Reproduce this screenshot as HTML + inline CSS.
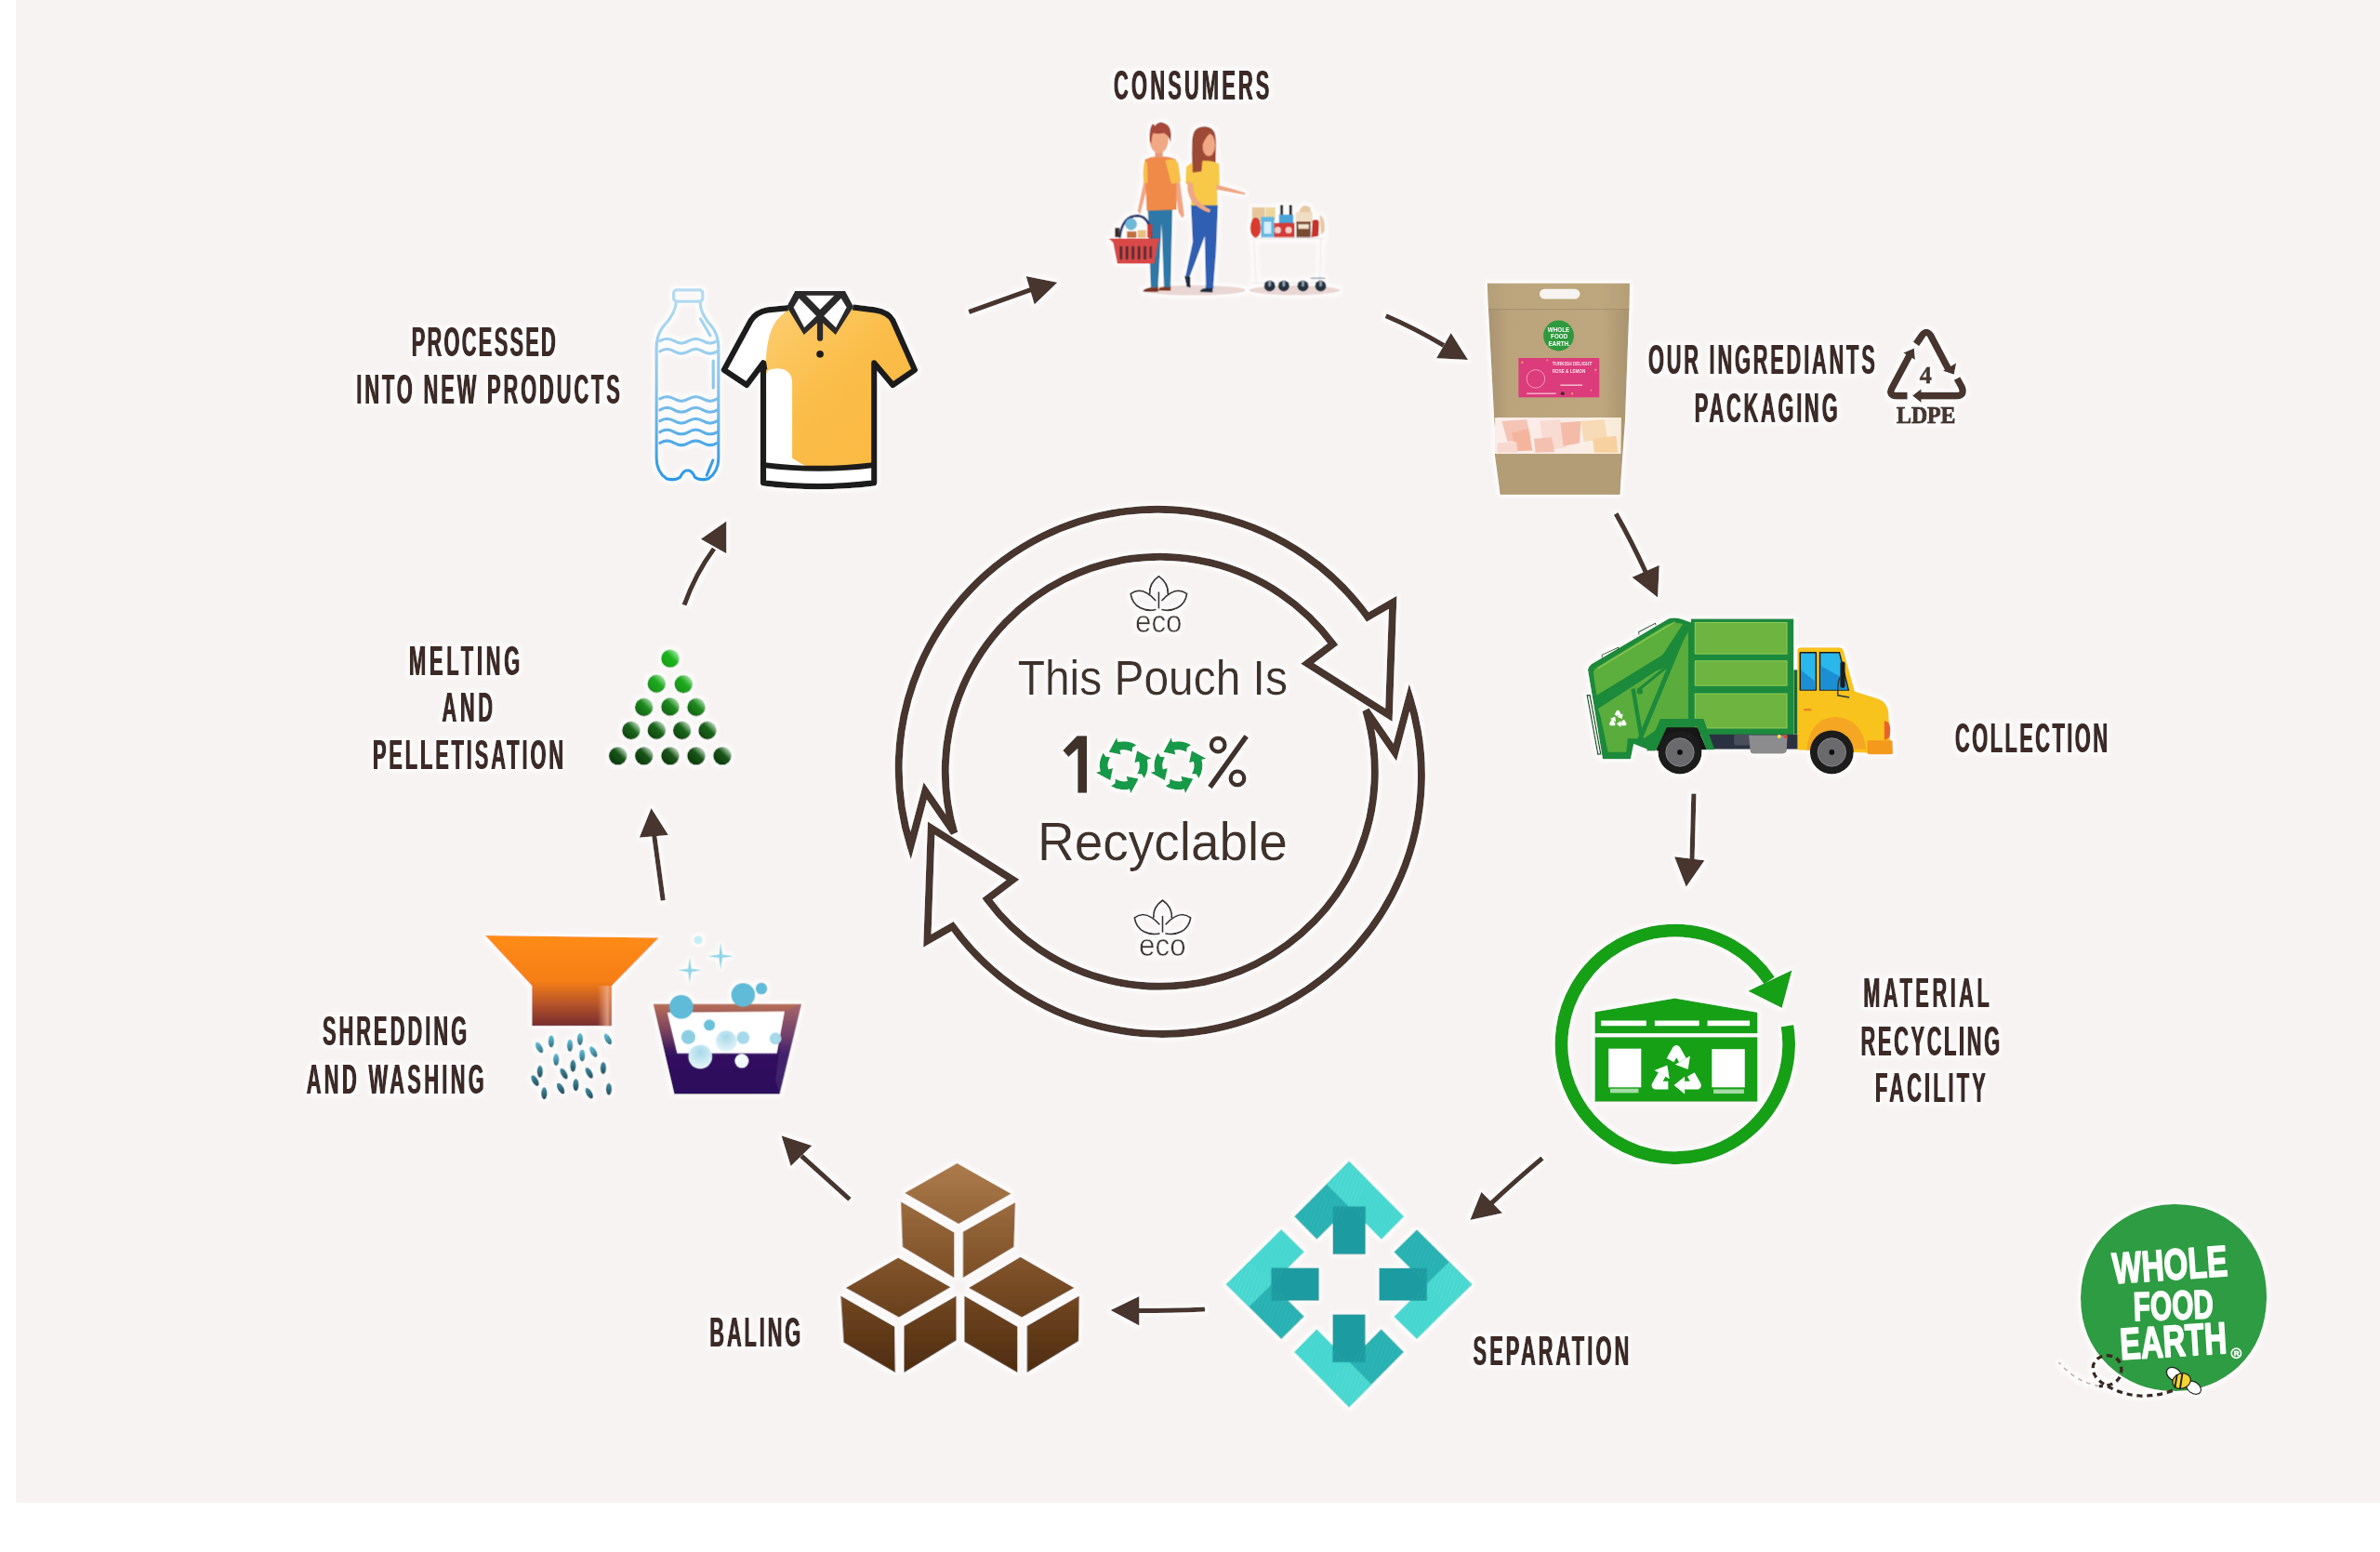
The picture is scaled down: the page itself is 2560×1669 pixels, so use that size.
<!DOCTYPE html>
<html><head><meta charset="utf-8"><title>Recycling Process</title>
<style>
html,body{margin:0;padding:0;background:#fff;}
body{width:2560px;height:1669px;overflow:hidden;position:relative;font-family:"Liberation Sans",sans-serif;}
svg{position:absolute;left:0;top:0;}
.lb{font-family:"Liberation Sans",sans-serif;font-weight:bold;font-size:43.6px;fill:#3c2b26;}
</style></head>
<body>
<svg width="2560" height="1669" viewBox="0 0 2560 1669">
<rect x="0" y="0" width="2560" height="1669" fill="#ffffff"/>
<rect x="17" y="0" width="2543" height="1616" fill="#f7f3f2"/>
<defs><filter id="halo" x="0" y="0" width="2560" height="1669" filterUnits="userSpaceOnUse">
<feMorphology in="SourceAlpha" operator="dilate" radius="2.5" result="d"/>
<feGaussianBlur in="d" stdDeviation="2" result="b"/>
<feFlood flood-color="#ffffff" flood-opacity="0.75"/>
<feComposite in2="b" operator="in" result="h"/>
<feMerge><feMergeNode in="h"/><feMergeNode in="SourceGraphic"/></feMerge>
</filter></defs>
<g filter="url(#halo)">
<!-- ===== CENTRAL RING ===== -->
<g id="ring" fill="none" stroke="#46352f" stroke-width="8" stroke-linejoin="miter">
<path id="ringarrow" d="M979.5 909.8 A278.5 278.5 0 0 1 1471.1 663.4 L1498.2 647.9 L1493.9 768.9 L1406.2 713.5 L1433.7 692.7 A231.0 231.0 0 0 0 1026.4 895.8 L995.2 850.6 Z"/>
<use href="#ringarrow" transform="rotate(180 1247.8 829.8)"/>
</g>
<g fill="#3f302b" font-family="Liberation Sans, sans-serif">
<text x="1094.7" y="747" font-size="51" textLength="290.2" lengthAdjust="spacingAndGlyphs">This Pouch Is</text>
<text x="1116" y="925.4" font-size="57" textLength="268.9" lengthAdjust="spacingAndGlyphs">Recyclable</text>
</g>
<!-- ===== 100% ===== -->
<g fill="#3f302b">
<polygon points="1169,791.3 1169,852.8 1159.2,852.8 1159.2,805 1149.3,814 1143.3,807 1158.5,791.3"/>
<line x1="1340.7" y1="791.6" x2="1301.4" y2="846.6" stroke="#3f302b" stroke-width="5.8"/>
<circle cx="1310.2" cy="801.1" r="7.3" fill="none" stroke="#3f302b" stroke-width="4.5"/>
<circle cx="1331" cy="836.9" r="7.3" fill="none" stroke="#3f302b" stroke-width="4.5"/>
</g>
<g fill="#179a48">
<path d="M1222.5 801.2 A26.0 26.0 0 0 0 1202.4 798.0 L1201.2 793.1 L1192.7 808.8 L1205.8 811.6 L1204.6 806.7 A17.0 17.0 0 0 1 1217.7 808.8 L1218.1 803.9 Z"/>
<path d="M1186.7 809.4 A26.0 26.0 0 0 0 1183.5 829.5 L1178.6 830.7 L1194.3 839.2 L1197.1 826.1 L1192.2 827.3 A17.0 17.0 0 0 1 1194.3 814.2 L1189.4 813.8 Z"/>
<path d="M1194.9 845.2 A26.0 26.0 0 0 0 1215.0 848.4 L1216.2 853.3 L1224.7 837.6 L1211.6 834.8 L1212.8 839.7 A17.0 17.0 0 0 1 1199.7 837.6 L1199.3 842.5 Z"/>
<path d="M1230.7 837.0 A26.0 26.0 0 0 0 1233.9 816.9 L1238.8 815.7 L1223.1 807.2 L1220.3 820.3 L1225.2 819.1 A17.0 17.0 0 0 1 1223.1 832.2 L1228.0 832.6 Z"/>
<path d="M1281.2 801.2 A26.0 26.0 0 0 0 1261.1 798.0 L1259.9 793.1 L1251.4 808.8 L1264.5 811.6 L1263.3 806.7 A17.0 17.0 0 0 1 1276.4 808.8 L1276.8 803.9 Z"/>
<path d="M1245.4 809.4 A26.0 26.0 0 0 0 1242.2 829.5 L1237.3 830.7 L1253.0 839.2 L1255.8 826.1 L1250.9 827.3 A17.0 17.0 0 0 1 1253.0 814.2 L1248.1 813.8 Z"/>
<path d="M1253.6 845.2 A26.0 26.0 0 0 0 1273.7 848.4 L1274.9 853.3 L1283.4 837.6 L1270.3 834.8 L1271.5 839.7 A17.0 17.0 0 0 1 1258.4 837.6 L1258.0 842.5 Z"/>
<path d="M1289.4 837.0 A26.0 26.0 0 0 0 1292.6 816.9 L1297.5 815.7 L1281.8 807.2 L1279.0 820.3 L1283.9 819.1 A17.0 17.0 0 0 1 1281.8 832.2 L1286.7 832.6 Z"/>
</g>
<g transform="translate(1246.4 619.8)"><g id="eco" fill="none" stroke="#3a3432" stroke-width="1.9" stroke-linecap="round">
<path d="M-9.6 18.6 C-10.5 9 -5 3.5 0 0 C5 3.5 10.5 9 9.8 18.6"/>
<path d="M0 17.5 L0 34"/>
<path d="M-3.6 25.8 Q-18.1 9.7 -30.2 18.8 C-28 34 -14 38 -3.6 35.8"/>
<path d="M3.6 25.8 Q18.1 9.7 30.2 18.8 C28 34 14 38 3.6 35.8"/>
<text x="-25.4" y="59.8" font-family="Liberation Sans, sans-serif" font-size="32.5" fill="#3a3432" stroke="#f7f3f2" stroke-width="0.6" textLength="50.5" lengthAdjust="spacingAndGlyphs">eco</text>
</g></g>
<use href="#eco" transform="translate(1250.5 968.1)"/>
<g id="labels">
<text class="lb" transform="matrix(0.500 0 0 1 1197.6 0)" x="0" y="107.0" textLength="334.6" lengthAdjust="spacing">CONSUMERS</text>
<text class="lb" transform="matrix(0.500 0 0 1 442.3 0)" x="0" y="383.0" textLength="310.0" lengthAdjust="spacing">PROCESSED</text>
<text class="lb" transform="matrix(0.500 0 0 1 382.8 0)" x="0" y="433.8" textLength="567.0" lengthAdjust="spacing">INTO NEW PRODUCTS</text>
<text class="lb" transform="matrix(0.500 0 0 1 1772.4 0)" x="0" y="402.5" textLength="487.6" lengthAdjust="spacing">OUR INGREDIANTS</text>
<text class="lb" transform="matrix(0.500 0 0 1 1822.2 0)" x="0" y="454.3" textLength="307.8" lengthAdjust="spacing">PACKAGING</text>
<text class="lb" transform="matrix(0.500 0 0 1 2102.6 0)" x="0" y="808.6" textLength="327.8" lengthAdjust="spacing">COLLECTION</text>
<text class="lb" transform="matrix(0.500 0 0 1 2003.7 0)" x="0" y="1083.3" textLength="271.2" lengthAdjust="spacing">MATERIAL</text>
<text class="lb" transform="matrix(0.500 0 0 1 2001.1 0)" x="0" y="1134.8" textLength="299.0" lengthAdjust="spacing">RECYCLING</text>
<text class="lb" transform="matrix(0.500 0 0 1 2016.6 0)" x="0" y="1185.4" textLength="237.2" lengthAdjust="spacing">FACILITY</text>
<text class="lb" transform="matrix(0.500 0 0 1 1584.1 0)" x="0" y="1468.2" textLength="335.2" lengthAdjust="spacing">SEPARATION</text>
<text class="lb" transform="matrix(0.500 0 0 1 762.8 0)" x="0" y="1447.8" textLength="196.0" lengthAdjust="spacing">BALING</text>
<text class="lb" transform="matrix(0.500 0 0 1 346.4 0)" x="0" y="1124.1" textLength="310.4" lengthAdjust="spacing">SHREDDING</text>
<text class="lb" transform="matrix(0.500 0 0 1 329.2 0)" x="0" y="1175.6" textLength="382.2" lengthAdjust="spacing">AND WASHING</text>
<text class="lb" transform="matrix(0.500 0 0 1 439.6 0)" x="0" y="725.8" textLength="238.2" lengthAdjust="spacing">MELTING</text>
<text class="lb" transform="matrix(0.500 0 0 1 475.0 0)" x="0" y="776.2" textLength="109.0" lengthAdjust="spacing">AND</text>
<text class="lb" transform="matrix(0.500 0 0 1 400.4 0)" x="0" y="827.3" textLength="410.2" lengthAdjust="spacing">PELLETISATION</text>
</g>
<use href="#labels" x="1.0"/>
<!-- ===== CONNECTOR ARROWS ===== -->
<g id="arrows">
<g fill="none" stroke="#46362f" stroke-width="5.2" stroke-linecap="butt">
<path d="M1042.1 335.5 L1109 311.5"/>
<path d="M1490.6 339.6 Q1522 353 1553 371.5"/>
<path d="M1738.1 552.4 Q1755 582 1771 617"/>
<path d="M1821.9 853.5 L1820 925"/>
<path d="M1659 1245.6 Q1632 1268 1603 1295"/>
<path d="M1296 1408 Q1262 1409.5 1224 1409.5"/>
<path d="M914 1289.9 L862 1243"/>
<path d="M713.2 968.3 L703.5 897"/>
<path d="M736 650.6 Q748 617 768 590"/>
</g>
<g fill="#46362f">
<polygon points="1103.6,297.1 1137.4,303.7 1112.7,327.4"/>
<polygon points="1560.7,358 1579.1,387 1545,385.3"/>
<polygon points="1755.4,620.8 1784.8,607.7 1783.1,642.4"/>
<polygon points="1801,921.2 1833.5,925.3 1813.7,953.7"/>
<polygon points="1593.4,1281.7 1616.1,1304.4 1581.3,1311.9"/>
<polygon points="1225.4,1393.9 1225.4,1425.4 1194.6,1409"/>
<polygon points="840.5,1221.3 873.4,1231.9 850.6,1254.1"/>
<polygon points="700.5,869 687.7,900.7 718.9,897.9"/>
<polygon points="781.3,560.4 753.8,579.7 781.3,595.3"/>
</g>
</g>
<!-- ===== LDPE symbol ===== -->
<g id="ldpe">
<g fill="none" stroke="#46352f" stroke-width="7.6" stroke-linejoin="round">
<path d="M2061 370 L2067.5 360.5 Q2072 354.5 2076.5 360.5 L2095.5 396.5"/>
<path d="M2105 407 L2110 416 Q2114 425.6 2104 425.6 L2066 425.6"/>
<path d="M2051.7 425.6 L2040.5 425.6 Q2030.5 425.6 2035.5 416.5 L2054 382"/>
</g>
<g fill="#46352f">
<polygon points="2101.8,402.8 2089.8,398.8 2104.2,390.2"/>
<polygon points="2057,425.6 2066.6,418.2 2066.6,433"/>
<polygon points="2058.8,374.6 2047.2,379.4 2060,387"/>
<text x="2071.2" y="411.5" font-family="Liberation Serif, serif" font-weight="bold" font-size="26" text-anchor="middle" stroke="#46352f" stroke-width="0.8">4</text>
<text x="2040" y="454.8" font-family="Liberation Serif, serif" font-weight="bold" font-size="24.2" textLength="63.5" lengthAdjust="spacingAndGlyphs" stroke="#46352f" stroke-width="1.1">LDPE</text>
</g>
</g>
<!-- ===== POUCH ===== -->
<g id="pouch" transform="translate(1590 295) scale(0.15789)">
<defs>
<linearGradient id="kraft" x1="0" y1="0" x2="1" y2="0">
<stop offset="0" stop-color="#a89270"/><stop offset="0.15" stop-color="#bba47c"/><stop offset="0.8" stop-color="#bea77e"/><stop offset="1" stop-color="#a9936f"/>
</linearGradient>
<linearGradient id="win" x1="0" y1="0" x2="1" y2="0">
<stop offset="0" stop-color="#fbeeea"/><stop offset="0.5" stop-color="#faebe6"/><stop offset="0.8" stop-color="#fbf0e4"/><stop offset="1" stop-color="#f9ead6"/>
</linearGradient>
</defs>
<path d="M62 62 L1032 62 L1028 250 L1000 1000 L965 1500 L150 1500 L110 1000 L70 250 Z" fill="url(#kraft)"/>
<path d="M62 62 L1032 62 L1028 240 L70 240 Z" fill="#bda67d" opacity="0.6"/>
<rect x="418" y="100" width="275" height="68" rx="34" fill="#f7f3f0"/>
<line x1="70" y1="238" x2="1030" y2="238" stroke="#9d8c68" stroke-width="5"/>
<circle cx="548" cy="418" r="104" fill="#2f9a3e"/>
<g fill="#ffffff" font-family="Liberation Sans, sans-serif" font-weight="bold" font-size="40" text-anchor="middle">
<text x="548" y="395">WHOLE</text><text x="552" y="440">FOOD</text><text x="552" y="485">EARTH.</text>
</g>
<rect x="275" y="570" width="550" height="268" fill="#dc3a7c"/>
<g fill="#fbe3ec" font-family="Liberation Sans, sans-serif" font-weight="bold" font-size="30">
<text x="505" y="620" textLength="270" lengthAdjust="spacingAndGlyphs">TURKISH DELIGHT</text>
<text x="505" y="672" textLength="225" lengthAdjust="spacingAndGlyphs">ROSE &amp; LEMON</text>
</g>
<circle cx="392" cy="712" r="62" fill="none" stroke="#f3b6cc" stroke-width="5"/>
<rect x="560" y="750" width="150" height="10" fill="#f3b6cc"/>
<rect x="330" y="808" width="200" height="8" fill="#f7c9d8"/>
<circle cx="575" cy="812" r="12" fill="#3b2a20"/>
<g fill="#f7d35a"><circle cx="300" cy="600" r="6"/><circle cx="800" cy="650" r="6"/><circle cx="770" cy="790" r="5"/><circle cx="470" cy="585" r="5"/><circle cx="640" cy="812" r="6"/></g>
<path d="M115 975 L975 975 L972 1222 L112 1222 Z" fill="url(#win)"/>
<g opacity="0.75">
<path d="M160 1000 L330 990 L360 1120 L200 1140 Z" fill="#f3b7a4"/>
<path d="M230 1080 L340 1050 L370 1200 L250 1205 Z" fill="#f4a384"/>
<path d="M420 1000 L560 990 L600 1180 L450 1200 Z" fill="#f8d6cb"/>
<path d="M560 1010 L700 1000 L690 1150 L580 1170 Z" fill="#f2ab95"/>
<path d="M700 1000 L860 990 L880 1120 L720 1140 Z" fill="#f6d4a8"/>
<path d="M780 1120 L940 1100 L950 1215 L790 1215 Z" fill="#f6c98a"/>
<path d="M130 1150 L260 1140 L270 1215 L130 1215 Z" fill="#f8d2c6"/>
<path d="M380 1120 L500 1110 L520 1210 L390 1215 Z" fill="#f2b39d"/>
</g>
<path d="M112 1222 L972 1222 L965 1500 L150 1500 Z" fill="#b39d76"/>
</g>
<!-- ===== TRUCK ===== -->
<g id="truck" transform="translate(1700 655) scale(0.14495)">
<!-- rear bar -->
<path d="M50 640 L70 640 L150 1075 L130 1078 Z" fill="none" stroke="#1d5e2c" stroke-width="10"/>
<!-- compactor -->
<path d="M55 450 Q60 420 95 400 L655 70 Q700 60 745 72 L840 105 L840 1000 L520 1050 L395 1000 L372 1112 L165 1112 Z" fill="#1e8a3a"/>
<path d="M95 470 Q100 445 125 430 L640 115 L700 100 L760 110 L610 340 L120 640 Z" fill="#5cae3d"/>
<path d="M130 740 L560 460 L650 420 L720 300 L800 170 L800 870 L600 870 L470 960 L350 960 L340 1060 L205 1060 L150 800 Z" fill="#5aad3c"/>
<path d="M100 660 L640 330 L700 360 L110 740 Z" fill="#1e8a3a"/>
<path d="M430 600 L650 420" stroke="#1e8a3a" stroke-width="22"/>
<circle cx="440" cy="610" r="22" fill="#1e8a3a"/>
<path d="M390 590 L460 1000" stroke="#1e8a3a" stroke-width="30"/>
<path d="M780 150 L430 990" stroke="#1e8a3a" stroke-width="34"/>
<path d="M700 95 L130 440" stroke="#9ad15a" stroke-width="8" opacity="0.8"/>
<!-- handles -->
<path d="M160 360 L160 340 L280 285 L285 300" fill="none" stroke="#1d5e2c" stroke-width="8"/>
<path d="M435 190 L432 170 L555 105 L560 120" fill="none" stroke="#1d5e2c" stroke-width="8"/>
<!-- recycle symbol -->
<path d="M262.4 789.0 L278.0 762.0 L293.6 789.0" fill="none" stroke="#ffffff" stroke-width="23.0" stroke-linejoin="round"/>
<polygon points="308.5,814.9 272.7,801.1 314.5,776.9" fill="#ffffff"/>
<path d="M314.4 825.0 L330.0 852.0 L298.8 852.0" fill="none" stroke="#ffffff" stroke-width="23.0" stroke-linejoin="round"/>
<polygon points="268.9,852.0 298.8,827.9 298.8,876.1" fill="#ffffff"/>
<path d="M257.2 852.0 L226.0 852.0 L241.6 825.0" fill="none" stroke="#ffffff" stroke-width="23.0" stroke-linejoin="round"/>
<polygon points="256.6,799.1 262.5,837.1 220.7,812.9" fill="#ffffff"/>
<!-- body box -->
<rect x="820" y="72" width="762" height="860" fill="#1f8a3c"/>
<rect x="850" y="100" width="682" height="232" fill="#6db43f" stroke="#9bd25b" stroke-width="6"/>
<rect x="850" y="385" width="682" height="182" fill="#6db43f" stroke="#9bd25b" stroke-width="6"/>
<rect x="850" y="628" width="682" height="255" fill="#6db43f" stroke="#9bd25b" stroke-width="6"/>
<rect x="1582" y="450" width="30" height="480" fill="#166c2e"/>
<!-- chassis -->
<rect x="930" y="930" width="690" height="110" fill="#2c3342"/>
<rect x="1140" y="930" width="120" height="80" rx="12" fill="#4a4f5a"/>
<path d="M1250 935 L1535 935 L1530 1055 Q1520 1072 1500 1072 L1280 1072 Q1262 1072 1260 1055 Z" fill="#8c8c8e"/>
<circle cx="1475" cy="945" r="14" fill="#f0e04a"/>
<circle cx="1520" cy="945" r="14" fill="#e0453f"/>
<!-- lower body edge over rear wheel -->
<path d="M560 1052 L640 878 L868 878 L940 1044 Z" fill="#141414"/>
<path d="M490 1052 L592 814 L913 814 L995 1044 L935 1044 L868 872 L636 872 L556 1052 Z" fill="#1e8a3a"/>
<!-- cab -->
<path d="M1610 300 Q1615 285 1640 285 L1925 285 Q1945 288 1952 310 L2035 610 L2210 665 Q2275 690 2285 760 L2300 1000 L2300 1075 L1610 1045 Z" fill="#f8c31d"/>
<path d="M1680 1045 Q1700 810 1890 800 Q2090 810 2120 1040 Z" fill="#f5a623"/>
<path d="M2130 975 L2315 975 L2318 1070 Q2318 1078 2305 1078 L2140 1078 Q2128 1078 2128 1065 Z" fill="#f39a1f"/>
<path d="M2255 830 Q2300 830 2300 900 Q2300 970 2255 970 Z" fill="#e8622b"/>
<!-- windows -->
<rect x="1625" y="318" width="128" height="288" rx="6" fill="#1d1d1d"/>
<rect x="1635" y="328" width="108" height="268" fill="#2ab7ec"/>
<path d="M1635 450 L1743 540 L1743 596 L1635 596 Z" fill="#1b8fd4"/>
<path d="M1772 318 L1925 318 L1995 606 L1772 606 Z" fill="#1d1d1d"/>
<path d="M1782 328 L1918 328 L1983 596 L1782 596 Z" fill="#2ab7ec"/>
<path d="M1782 420 L1960 520 L1983 596 L1782 596 Z" fill="#1b8fd4"/>
<!-- mirror -->
<rect x="1928" y="390" width="35" height="195" rx="14" fill="#1d1d1d"/>
<path d="M1935 500 Q1905 520 1910 640 L1995 655" fill="none" stroke="#2d3a3a" stroke-width="10"/>
<rect x="1655" y="740" width="60" height="14" rx="7" fill="#e8762b"/>
<!-- wheels -->
<g>
<circle cx="738" cy="1062" r="162" fill="#1b1b1b"/>
<circle cx="738" cy="1062" r="105" fill="#6b6b6d" stroke="#8a8a8c" stroke-width="6"/>
<circle cx="738" cy="1062" r="20" fill="#111"/>
<circle cx="1865" cy="1062" r="162" fill="#1b1b1b"/>
<circle cx="1865" cy="1062" r="105" fill="#6b6b6d" stroke="#8a8a8c" stroke-width="6"/>
<circle cx="1865" cy="1062" r="20" fill="#111"/>
</g>
</g>
<!-- ===== MRF ===== -->
<g id="mrf" transform="translate(1665 985) scale(0.17722)">
<path d="M1452.9 666.5 A690 690 0 1 1 1344.0 392.2" fill="none" stroke="#12a014" stroke-width="78"/>
<polygon points="1215,455 1482,328 1420,558" fill="#12a014"/>
<polygon points="285,582 770,500 1272,585 1272,712 285,712" fill="#12a014"/>
<g fill="#ffffff"><rect x="322" y="635" width="275" height="32"/><rect x="648" y="635" width="270" height="32"/><rect x="968" y="635" width="257" height="32"/></g>
<rect x="285" y="735" width="987" height="392" fill="#12a014"/>
<g fill="#ffffff"><rect x="368" y="805" width="198" height="235"/><rect x="995" y="808" width="200" height="232"/></g>
<g fill="#a6dba6"><rect x="378" y="1048" width="172" height="26"/><rect x="1005" y="1052" width="185" height="26"/></g>
<path d="M742.3 875.2 L780.0 810.0 L817.7 875.2" fill="none" stroke="#ffffff" stroke-width="50.0" stroke-linejoin="round"/>
<polygon points="850.2,931.5 772.2,901.5 863.1,849.0" fill="#ffffff"/>
<path d="M867.9 962.2 L905.6 1027.5 L830.2 1027.5" fill="none" stroke="#ffffff" stroke-width="50.0" stroke-linejoin="round"/>
<polygon points="765.2,1027.5 830.2,975.0 830.2,1080.0" fill="#ffffff"/>
<path d="M729.8 1027.5 L654.4 1027.5 L692.1 962.2" fill="none" stroke="#ffffff" stroke-width="50.0" stroke-linejoin="round"/>
<polygon points="724.6,906.0 737.6,988.5 646.6,936.0" fill="#ffffff"/>
</g>
<!-- ===== SEPARATION ===== -->
<g id="sep" transform="translate(1310 1240) scale(0.18041)">
<defs><pattern id="stripes" patternUnits="userSpaceOnUse" width="22" height="22" patternTransform="rotate(20)"><rect width="22" height="22" fill="none"/><rect width="5" height="22" fill="#ffffff" opacity="0.07"/></pattern></defs>
<polygon points="455.0,378.0 590.0,515.0 917.0,186.0 782.0,48.0" fill="#27b1b2"/>
<polygon points="782.0,48.0 1110.0,378.0 975.0,515.0 647.0,185.0" fill="#45d7d0"/>
<polygon points="685.0,318.0 880.0,318.0 880.0,603.0 685.0,603.0" fill="#1c9ca0"/>
<polygon points="1186.0,455.0 1049.0,590.0 1378.0,917.0 1516.0,782.0" fill="#27b1b2"/>
<polygon points="1516.0,782.0 1186.0,1110.0 1049.0,975.0 1379.0,647.0" fill="#45d7d0"/>
<polygon points="1246.0,685.0 1246.0,880.0 961.0,880.0 961.0,685.0" fill="#1c9ca0"/>
<polygon points="1109.0,1186.0 974.0,1049.0 647.0,1378.0 782.0,1516.0" fill="#27b1b2"/>
<polygon points="782.0,1516.0 454.0,1186.0 589.0,1049.0 917.0,1379.0" fill="#45d7d0"/>
<polygon points="879.0,1246.0 684.0,1246.0 684.0,961.0 879.0,961.0" fill="#1c9ca0"/>
<polygon points="378.0,1109.0 515.0,974.0 186.0,647.0 48.0,782.0" fill="#27b1b2"/>
<polygon points="48.0,782.0 378.0,454.0 515.0,589.0 185.0,917.0" fill="#45d7d0"/>
<polygon points="318.0,879.0 318.0,684.0 603.0,684.0 603.0,879.0" fill="#1c9ca0"/>
<polygon points="455.0,378.0 590.0,515.0 917.0,186.0 782.0,48.0" fill="url(#stripes)"/>
<polygon points="782.0,48.0 1110.0,378.0 975.0,515.0 647.0,185.0" fill="url(#stripes)"/>
<polygon points="1186.0,455.0 1049.0,590.0 1378.0,917.0 1516.0,782.0" fill="url(#stripes)"/>
<polygon points="1516.0,782.0 1186.0,1110.0 1049.0,975.0 1379.0,647.0" fill="url(#stripes)"/>
<polygon points="1109.0,1186.0 974.0,1049.0 647.0,1378.0 782.0,1516.0" fill="url(#stripes)"/>
<polygon points="782.0,1516.0 454.0,1186.0 589.0,1049.0 917.0,1379.0" fill="url(#stripes)"/>
<polygon points="378.0,1109.0 515.0,974.0 186.0,647.0 48.0,782.0" fill="url(#stripes)"/>
<polygon points="48.0,782.0 378.0,454.0 515.0,589.0 185.0,917.0" fill="url(#stripes)"/>
</g>
<!-- ===== CUBES ===== -->
<g id="cubes" transform="translate(895 1245) scale(0.15461)">
<defs><linearGradient id="cubeg" gradientUnits="userSpaceOnUse" x1="0" y1="38" x2="0" y2="1495"><stop offset="0" stop-color="#ad7c4c"/><stop offset="0.45" stop-color="#84562c"/><stop offset="1" stop-color="#4f2c0f"/></linearGradient></defs>
<g fill="url(#cubeg)">
<polygon points="505,245 870,38 1245,250 880,460"/>
<polygon points="478,305 850,520 850,835 490,620"/>
<polygon points="910,515 1275,310 1265,620 910,835"/>
<polygon points="95,905 460,695 825,900 465,1110"/>
<polygon points="60,960 435,1175 440,1495 80,1285"/>
<polygon points="500,1170 865,960 865,1270 500,1495"/>
<polygon points="950,905 1310,690 1685,905 1320,1110"/>
<polygon points="920,960 1290,1175 1290,1495 920,1280"/>
<polygon points="1355,1170 1720,960 1715,1275 1355,1495"/>
</g>
</g>
<!-- ===== PELLETS ===== -->
<g id="pellets" transform="translate(645 690) scale(0.09343)">
<defs>
<linearGradient id="pg0" x1="0.1" y1="0.9" x2="0.95" y2="0.05"><stop offset="0" stop-color="#169f16"/><stop offset="0.55" stop-color="#1fb51f"/><stop offset="0.85" stop-color="#8fe38f"/><stop offset="1" stop-color="#8fe38f"/></linearGradient>
<linearGradient id="pg1" x1="0.1" y1="0.9" x2="0.95" y2="0.05"><stop offset="0" stop-color="#178f17"/><stop offset="0.55" stop-color="#21aa21"/><stop offset="0.85" stop-color="#8edb8e"/><stop offset="1" stop-color="#8edb8e"/></linearGradient>
<linearGradient id="pg2" x1="0.1" y1="0.9" x2="0.95" y2="0.05"><stop offset="0" stop-color="#125f12"/><stop offset="0.55" stop-color="#1d8a1d"/><stop offset="0.85" stop-color="#93cf93"/><stop offset="1" stop-color="#93cf93"/></linearGradient>
<linearGradient id="pg3" x1="0.1" y1="0.9" x2="0.95" y2="0.05"><stop offset="0" stop-color="#0d420d"/><stop offset="0.55" stop-color="#1a661a"/><stop offset="0.85" stop-color="#a3c9a3"/><stop offset="1" stop-color="#a3c9a3"/></linearGradient>
<linearGradient id="pg4" x1="0.1" y1="0.9" x2="0.95" y2="0.05"><stop offset="0" stop-color="#0b380b"/><stop offset="0.55" stop-color="#175517"/><stop offset="0.85" stop-color="#a9c4a9"/><stop offset="1" stop-color="#a9c4a9"/></linearGradient>
</defs>
<circle cx="812" cy="195" r="105" fill="url(#pg0)"/>
<circle cx="655" cy="485" r="105" fill="url(#pg1)"/>
<circle cx="965" cy="490" r="105" fill="url(#pg1)"/>
<circle cx="510" cy="755" r="105" fill="url(#pg2)"/>
<circle cx="812" cy="750" r="105" fill="url(#pg2)"/>
<circle cx="1112" cy="755" r="105" fill="url(#pg2)"/>
<circle cx="362" cy="1022" r="105" fill="url(#pg3)"/>
<circle cx="655" cy="1020" r="105" fill="url(#pg3)"/>
<circle cx="948" cy="1022" r="105" fill="url(#pg3)"/>
<circle cx="1240" cy="1022" r="105" fill="url(#pg3)"/>
<circle cx="210" cy="1315" r="105" fill="url(#pg4)"/>
<circle cx="510" cy="1315" r="105" fill="url(#pg4)"/>
<circle cx="812" cy="1315" r="105" fill="url(#pg4)"/>
<circle cx="1112" cy="1315" r="105" fill="url(#pg4)"/>
<circle cx="1412" cy="1315" r="105" fill="url(#pg4)"/>
</g>
<!-- ===== SHREDDING/WASHING ===== -->
<g id="shred" transform="translate(515 995) scale(0.15126)">
<defs>
<linearGradient id="hop" gradientUnits="userSpaceOnUse" x1="0" y1="72" x2="0" y2="715">
<stop offset="0" stop-color="#ff8c18"/><stop offset="0.5" stop-color="#f77f16"/><stop offset="0.75" stop-color="#b9562a"/><stop offset="1" stop-color="#782d30"/></linearGradient>
<linearGradient id="drop" x1="0" y1="0" x2="0" y2="1"><stop offset="0" stop-color="#63c3dc"/><stop offset="1" stop-color="#2f6e80"/></linearGradient>
<linearGradient id="drop2" x1="0" y1="0" x2="0" y2="1"><stop offset="0" stop-color="#3f8fa5"/><stop offset="1" stop-color="#1f4d5a"/></linearGradient>
<linearGradient id="rim" x1="0" y1="0" x2="1" y2="0"><stop offset="0" stop-color="#9a4a3a"/><stop offset="0.5" stop-color="#c98a72"/><stop offset="1" stop-color="#e2b6a4"/></linearGradient>
<linearGradient id="tub" gradientUnits="userSpaceOnUse" x1="0" y1="560" x2="0" y2="1200"><stop offset="0" stop-color="#b86f58"/><stop offset="0.35" stop-color="#6e3a5e"/><stop offset="0.55" stop-color="#32125f"/><stop offset="1" stop-color="#2c0f5c"/></linearGradient>
<linearGradient id="hl" x1="0" y1="0" x2="1" y2="0"><stop offset="0" stop-color="#f5b08a" stop-opacity="0"/><stop offset="0.7" stop-color="#f3b795" stop-opacity="0.75"/><stop offset="1" stop-color="#f0a47c" stop-opacity="0.3"/></linearGradient>
<radialGradient id="bub" cx="0.5" cy="0.3" r="0.7"><stop offset="0" stop-color="#a6d9ea"/><stop offset="1" stop-color="#e8f6fa"/></radialGradient>
</defs>
<polygon points="45,72 1280,88 945,430 945,715 378,715 378,430" fill="url(#hop)"/>
<rect x="845" y="430" width="100" height="285" fill="url(#hl)"/>
<ellipse cx="430" cy="870" rx="21" ry="44" transform="rotate(-30 430 870)" fill="url(#drop)"/>
<ellipse cx="515" cy="825" rx="21" ry="44" transform="rotate(0 515 825)" fill="url(#drop)"/>
<ellipse cx="648" cy="855" rx="21" ry="44" transform="rotate(0 648 855)" fill="url(#drop)"/>
<ellipse cx="720" cy="810" rx="21" ry="44" transform="rotate(0 720 810)" fill="url(#drop)"/>
<ellipse cx="918" cy="810" rx="21" ry="44" transform="rotate(-30 918 810)" fill="url(#drop)"/>
<ellipse cx="550" cy="955" rx="21" ry="44" transform="rotate(0 550 955)" fill="url(#drop)"/>
<ellipse cx="735" cy="925" rx="21" ry="44" transform="rotate(0 735 925)" fill="url(#drop)"/>
<ellipse cx="815" cy="900" rx="21" ry="44" transform="rotate(-30 815 900)" fill="url(#drop)"/>
<ellipse cx="670" cy="1000" rx="21" ry="44" transform="rotate(0 670 1000)" fill="url(#drop2)"/>
<ellipse cx="885" cy="1015" rx="21" ry="44" transform="rotate(0 885 1015)" fill="url(#drop2)"/>
<ellipse cx="435" cy="1040" rx="21" ry="44" transform="rotate(0 435 1040)" fill="url(#drop2)"/>
<ellipse cx="605" cy="1055" rx="21" ry="44" transform="rotate(-30 605 1055)" fill="url(#drop2)"/>
<ellipse cx="785" cy="1050" rx="21" ry="44" transform="rotate(-30 785 1050)" fill="url(#drop2)"/>
<ellipse cx="400" cy="1105" rx="21" ry="44" transform="rotate(-30 400 1105)" fill="url(#drop2)"/>
<ellipse cx="690" cy="1135" rx="21" ry="44" transform="rotate(0 690 1135)" fill="url(#drop2)"/>
<ellipse cx="582" cy="1160" rx="21" ry="44" transform="rotate(-30 582 1160)" fill="url(#drop2)"/>
<ellipse cx="465" cy="1195" rx="21" ry="44" transform="rotate(0 465 1195)" fill="url(#drop2)"/>
<ellipse cx="785" cy="1195" rx="21" ry="44" transform="rotate(-30 785 1195)" fill="url(#drop2)"/>
<ellipse cx="925" cy="1165" rx="21" ry="44" transform="rotate(0 925 1165)" fill="url(#drop2)"/>
<polygon points="1240,560 2295,560 2140,1200 1390,1200" fill="url(#tub)"/>
<polygon points="1340,620 2175,612 2120,912 1410,912" fill="#ffffff"/>
<polygon points="2175,612 2295,560 2140,1200 2110,1100" fill="#7a4f9a" opacity="0.25"/>
<circle cx="1440" cy="580" r="85" fill="#5fbbd8"/>
<circle cx="1880" cy="495" r="85" fill="#5fbbd8"/>
<circle cx="2010" cy="450" r="42" fill="#5fbbd8"/>
<circle cx="1640" cy="710" r="40" fill="#6cc1da"/>
<circle cx="1490" cy="795" r="50" fill="#8ccfe3"/>
<circle cx="1760" cy="825" r="75" fill="url(#bub)"/>
<circle cx="1880" cy="800" r="45" fill="#a6d9ea"/>
<circle cx="2110" cy="805" r="42" fill="#a6d9ea"/>
<circle cx="1575" cy="935" r="85" fill="url(#bub)"/>
<circle cx="1870" cy="965" r="50" fill="#f4fbfd"/>
<circle cx="1560" cy="105" r="30" fill="#c6eef5"/>
<path d="M1410 320 L1500 306 L1590 320 L1500 334 Z M1500 230 L1514 320 L1500 410 L1486 320 Z" fill="#8fd5e6"/>
<path d="M1625 220 L1720 206 L1815 220 L1720 234 Z M1720 125 L1734 220 L1720 315 L1706 220 Z" fill="#8fd5e6"/>
</g>
<!-- ===== BOTTLE & SHIRT ===== -->
<g id="prod" transform="translate(695 300) scale(0.14822)">
<defs>
<linearGradient id="bot" gradientUnits="userSpaceOnUse" x1="0" y1="80" x2="0" y2="1450"><stop offset="0" stop-color="#b4dcf2"/><stop offset="0.5" stop-color="#8cc6ec"/><stop offset="1" stop-color="#2a9ae6"/></linearGradient>
<linearGradient id="shy" x1="0" y1="0" x2="1" y2="1"><stop offset="0" stop-color="#fcd27c"/><stop offset="0.5" stop-color="#fbbd48"/><stop offset="1" stop-color="#fbb840"/></linearGradient>
</defs>
<g fill="none" stroke="url(#bot)" stroke-width="22" stroke-linecap="round" stroke-linejoin="round">
<rect x="200" y="80" width="210" height="82" rx="22"/>
<path d="M218 165 Q215 250 120 350 Q75 410 75 500 L75 1300 Q75 1400 150 1450 Q210 1465 245 1440 Q275 1385 300 1390 Q330 1385 355 1440 Q390 1465 450 1450 Q525 1400 525 1300 L525 500 Q525 410 480 350 Q390 250 392 165"/>
<path d="M395 290 L465 410 M487 595 L487 790 M485 1315 L440 1425"/>
<path d="M100 450 q52 -32 104 0 q52 32 104 0 q52 -32 104 0 q52 32 104 0"/>
<path d="M100 525 q52 -32 104 0 q52 32 104 0 q52 -32 104 0 q52 32 104 0"/>
<path d="M100 870 q52 -32 104 0 q52 32 104 0 q52 -32 104 0 q52 32 104 0"/>
<path d="M100 950 q52 -32 104 0 q52 32 104 0 q52 -32 104 0 q52 32 104 0"/>
<path d="M100 1030 q52 -32 104 0 q52 32 104 0 q52 -32 104 0 q52 32 104 0"/>
<path d="M100 1110 q52 -32 104 0 q52 32 104 0 q52 -32 104 0 q52 32 104 0"/>
<path d="M100 1190 q52 -32 104 0 q52 32 104 0 q52 -32 104 0 q52 32 104 0"/>
</g>
<path d="M1030 210 L880 225 Q800 240 760 300 L565 660 L730 770 L850 610 L850 1480 L1655 1480 L1655 610 L1790 770 L1950 660 L1790 300 Q1755 240 1660 225 L1500 205 Z" fill="url(#shy)"/>
<path d="M1030 210 L880 225 Q800 240 760 300 L565 660 L730 770 L850 610 L870 585 Q880 330 1000 250 Z" fill="#ffffff"/>
<path d="M870 1345 L870 700 Q870 650 960 650 Q1060 655 1060 760 L1060 1300 L1160 1360 Z" fill="#ffffff"/>
<path d="M860 1355 Q1250 1400 1650 1355 L1655 1485 Q1250 1530 850 1485 Z" fill="#ffffff"/>
<path d="M1030 210 L880 225 Q800 240 760 300 L565 660 L730 770 L850 610 L850 1480 Q1250 1530 1655 1480 L1655 610 L1790 770 L1950 660 L1790 300 Q1755 240 1660 225 L1500 205" fill="none" stroke="#1f1f1f" stroke-width="42" stroke-linejoin="round"/>
<path d="M855 1350 Q1250 1400 1650 1350" fill="none" stroke="#1f1f1f" stroke-width="40"/>
<path d="M850 600 L860 660" stroke="#1f1f1f" stroke-width="40"/>
<polygon points="1080,88 1445,88 1505,200 1375,405 1262,300 1145,405 1020,200" fill="#2a2a2a"/>
<polygon points="1160,120 1365,120 1262,222" fill="#ffffff"/>
<polygon points="1070,205 1110,140 1235,268 1148,352" fill="#ffffff"/>
<polygon points="1455,205 1415,140 1290,268 1377,352" fill="#ffffff"/>
<path d="M1262 290 L1262 430" stroke="#2a2a2a" stroke-width="42" stroke-linecap="round"/>
<circle cx="1262" cy="545" r="26" fill="#1f1f1f"/>
</g>
<!-- ===== CONSUMERS (people) ===== -->
<g id="people" transform="translate(1185 125) scale(0.12884)">
<!-- shadows -->
<ellipse cx="770" cy="1452" rx="430" ry="42" fill="#ead7d4"/>
<ellipse cx="1610" cy="1452" rx="380" ry="40" fill="#ead7d4"/>
<!-- ===== man ===== -->
<!-- legs -->
<path d="M385 780 L590 780 L575 1430 L520 1430 L500 900 L470 1430 L410 1430 Z" fill="#2e78a8"/>
<path d="M345 1465 Q350 1440 410 1428 L470 1428 L472 1465 Z" fill="#7a3422"/>
<path d="M470 1452 Q480 1425 520 1425 L575 1425 L575 1455 Z" fill="#7a3422"/>
<!-- arms -->
<path d="M355 530 L300 790 L320 820 L390 560 Z" fill="#f0a784"/>
<path d="M600 520 L640 800 L670 850 L690 830 L650 530 Z" fill="#f0a784"/>
<!-- shirt -->
<path d="M360 360 Q420 330 480 335 Q560 330 620 360 L625 780 L375 790 Z" fill="#ef8a4a"/>
<path d="M530 370 Q600 340 640 390 L660 540 Q620 570 580 560 Z" fill="#f8c04a"/>
<path d="M355 380 Q340 450 350 560 L385 555 L380 380 Z" fill="#f8c04a"/>
<!-- neck & head -->
<rect x="445" y="280" width="65" height="65" fill="#e99a77"/>
<ellipse cx="478" cy="200" rx="78" ry="108" fill="#f1a985"/>
<path d="M400 200 Q395 110 420 70 Q430 55 445 80 Q470 40 520 55 Q575 70 580 150 L575 220 Q560 160 520 140 Q470 150 430 140 Q415 170 415 230 Z" fill="#a6493a"/>
<!-- basket -->
<path d="M150 1015 Q170 830 300 830 Q410 840 410 1015" fill="none" stroke="#2a3e75" stroke-width="22"/>
<g>
<rect x="110" y="930" width="40" height="80" fill="#3a2a2a"/>
<circle cx="245" cy="900" r="50" fill="#6fb8d8"/>
<rect x="210" y="960" width="80" height="55" fill="#c07040"/>
<rect x="300" y="950" width="70" height="65" fill="#e8c080"/>
<rect x="380" y="900" width="40" height="115" fill="#c83a30"/>
</g>
<path d="M58 1020 L490 1020 L470 1055 L440 1230 L130 1230 L95 1055 Z" fill="#d94a47"/>
<g fill="#3a2430" opacity="0.8">
<rect x="150" y="1085" width="22" height="110"/><rect x="200" y="1085" width="22" height="110"/><rect x="250" y="1085" width="22" height="110"/><rect x="300" y="1085" width="22" height="110"/><rect x="350" y="1085" width="22" height="110"/><rect x="400" y="1085" width="18" height="100"/>
</g>
<!-- ===== woman ===== -->
<path d="M745 740 L970 740 L955 1120 L930 1440 L870 1440 L860 1000 L780 1220 L730 1350 L700 1330 L760 1050 Z" fill="#2d5fb2"/>
<path d="M690 1330 L740 1340 L740 1430 L710 1420 Z" fill="#1f2a3a"/>
<path d="M820 1465 Q825 1440 870 1435 L925 1435 L925 1468 Z" fill="#1f2a3a"/>
<!-- hair back -->
<path d="M760 170 Q770 85 860 85 Q955 95 955 220 L950 450 L850 440 L820 460 L760 470 Q745 300 760 170 Z" fill="#9c4a36"/>
<!-- shirt -->
<path d="M705 420 Q760 370 860 370 Q950 370 980 400 L985 560 L965 600 L965 745 L745 745 L750 600 L700 560 Z" fill="#f8c84a"/>
<!-- arms -->
<path d="M720 540 Q700 640 760 720 Q830 790 900 805 L910 780 Q860 760 800 700 Q760 640 760 560 Z" fill="#f0a784"/>
<path d="M960 570 L1110 610 L1200 640 L1195 655 L1110 640 L955 610 Z" fill="#f0a784"/>
<!-- face -->
<ellipse cx="893" cy="238" rx="55" ry="95" fill="#f1a985"/>
<path d="M755 200 Q770 88 870 86 Q945 95 952 170 Q935 135 918 131 Q862 170 843 237 L843 335 L832 460 L760 470 Z" fill="#9c4a36"/>
<!-- ===== cart ===== -->
<g>
<rect x="1255" y="760" width="110" height="120" fill="#e6c79c"/>
<rect x="1370" y="760" width="80" height="110" fill="#ecd79a"/>
<rect x="1490" y="740" width="25" height="120" fill="#2a2a2a"/>
<rect x="1565" y="740" width="25" height="120" fill="#2a2a2a"/>
<path d="M1650 790 Q1680 720 1740 760 L1760 850 L1640 850 Z" fill="#e8c8a0"/>
<rect x="1620" y="800" width="140" height="90" fill="#f1ddc4"/>
<ellipse cx="1285" cy="930" rx="45" ry="85" fill="#d83a2f"/>
<rect x="1330" y="840" width="110" height="170" fill="#65b8e2"/>
<rect x="1355" y="880" width="60" height="100" fill="#d8eef8"/>
<rect x="1480" y="820" width="120" height="80" fill="#4aa4d8"/>
<rect x="1440" y="890" width="170" height="120" fill="#d33a38"/>
<circle cx="1470" cy="950" r="28" fill="#f3d0c8"/>
<circle cx="1560" cy="950" r="28" fill="#f3d0c8"/>
<rect x="1625" y="880" width="120" height="130" fill="#7a4a30"/>
<rect x="1640" y="900" width="90" height="40" fill="#f2e2d0"/>
<path d="M1760 870 Q1800 850 1815 880 L1810 1000 L1750 1010 Z" fill="#c9302a"/>
<path d="M1820 820 Q1870 850 1860 960 L1830 990 Z" fill="#e8c8a0"/>
<path d="M1250 1020 L1860 1020 M1270 1020 L1290 1390 M1830 1020 L1820 1390 M1250 1390 L1860 1390" stroke="#f2eeee" stroke-width="14" fill="none"/>
</g>
<g>
<circle cx="1402" cy="1415" r="46" fill="#25313e"/><rect x="1390" y="1372" width="24" height="50" rx="8" fill="#8fa0ad"/>
<circle cx="1520" cy="1415" r="46" fill="#25313e"/><rect x="1508" y="1372" width="24" height="50" rx="8" fill="#8fa0ad"/>
<circle cx="1680" cy="1415" r="46" fill="#25313e"/><rect x="1668" y="1372" width="24" height="50" rx="8" fill="#8fa0ad"/>
<circle cx="1828" cy="1415" r="46" fill="#25313e"/><rect x="1816" y="1372" width="24" height="50" rx="8" fill="#8fa0ad"/>
<rect x="1745" y="1345" width="120" height="12" fill="#9aa8b4"/>
</g>
</g>
<!-- ===== WHOLE FOOD EARTH logo ===== -->
<g id="wfe" transform="translate(2200 1270) scale(0.16109)">
<path d="M857 155 Q1120 150 1300 320 Q1480 500 1478 780 Q1475 1060 1290 1240 Q1100 1410 850 1402 Q600 1400 420 1230 Q235 1050 236 780 Q240 500 420 330 Q600 160 857 155 Z" fill="#2f9c42"/>
<g fill="#ffffff" stroke="#ffffff" stroke-width="12" stroke-linejoin="round" font-family="Liberation Sans, sans-serif" font-weight="bold">
<text x="0" y="0" font-size="330" transform="translate(455 685) rotate(-4) scale(0.62 0.88)" textLength="1240" lengthAdjust="spacingAndGlyphs">WHOLE</text>
<text x="0" y="0" font-size="300" transform="translate(592 932) rotate(-2) scale(0.62 0.9)" textLength="860" lengthAdjust="spacingAndGlyphs">FOOD</text>
<text x="0" y="0" font-size="330" transform="translate(505 1192) rotate(-3.5) scale(0.62 0.9)" textLength="1150" lengthAdjust="spacingAndGlyphs">EARTH</text>
<circle cx="1275" cy="1150" r="32" fill="none" stroke="#ffffff" stroke-width="10"/><text x="1258" y="1170" font-size="50" stroke-width="3">R</text>
</g>
<!-- bee trail -->
<path d="M850 1400 Q650 1470 480 1400 Q300 1330 320 1230 Q350 1150 450 1170 Q520 1200 505 1290 Q480 1370 360 1370" fill="none" stroke="#3b2b22" stroke-width="22" stroke-dasharray="40 28"/>
<path d="M360 1370 Q200 1340 90 1210" fill="none" stroke="#b9b2ae" stroke-width="10" stroke-dasharray="30 30"/>
<!-- bee -->
<ellipse cx="860" cy="1290" rx="55" ry="40" fill="#ffffff" stroke="#222" stroke-width="8" transform="rotate(35 860 1290)"/>
<ellipse cx="990" cy="1380" rx="55" ry="38" fill="#ffffff" stroke="#222" stroke-width="8" transform="rotate(35 990 1380)"/>
<ellipse cx="910" cy="1335" rx="62" ry="50" fill="#f6d531" stroke="#222" stroke-width="8" transform="rotate(-20 910 1335)"/>
<path d="M880 1290 L865 1380 M915 1285 L900 1385" stroke="#222" stroke-width="12"/>
</g>
</g>
</svg>
</body></html>
